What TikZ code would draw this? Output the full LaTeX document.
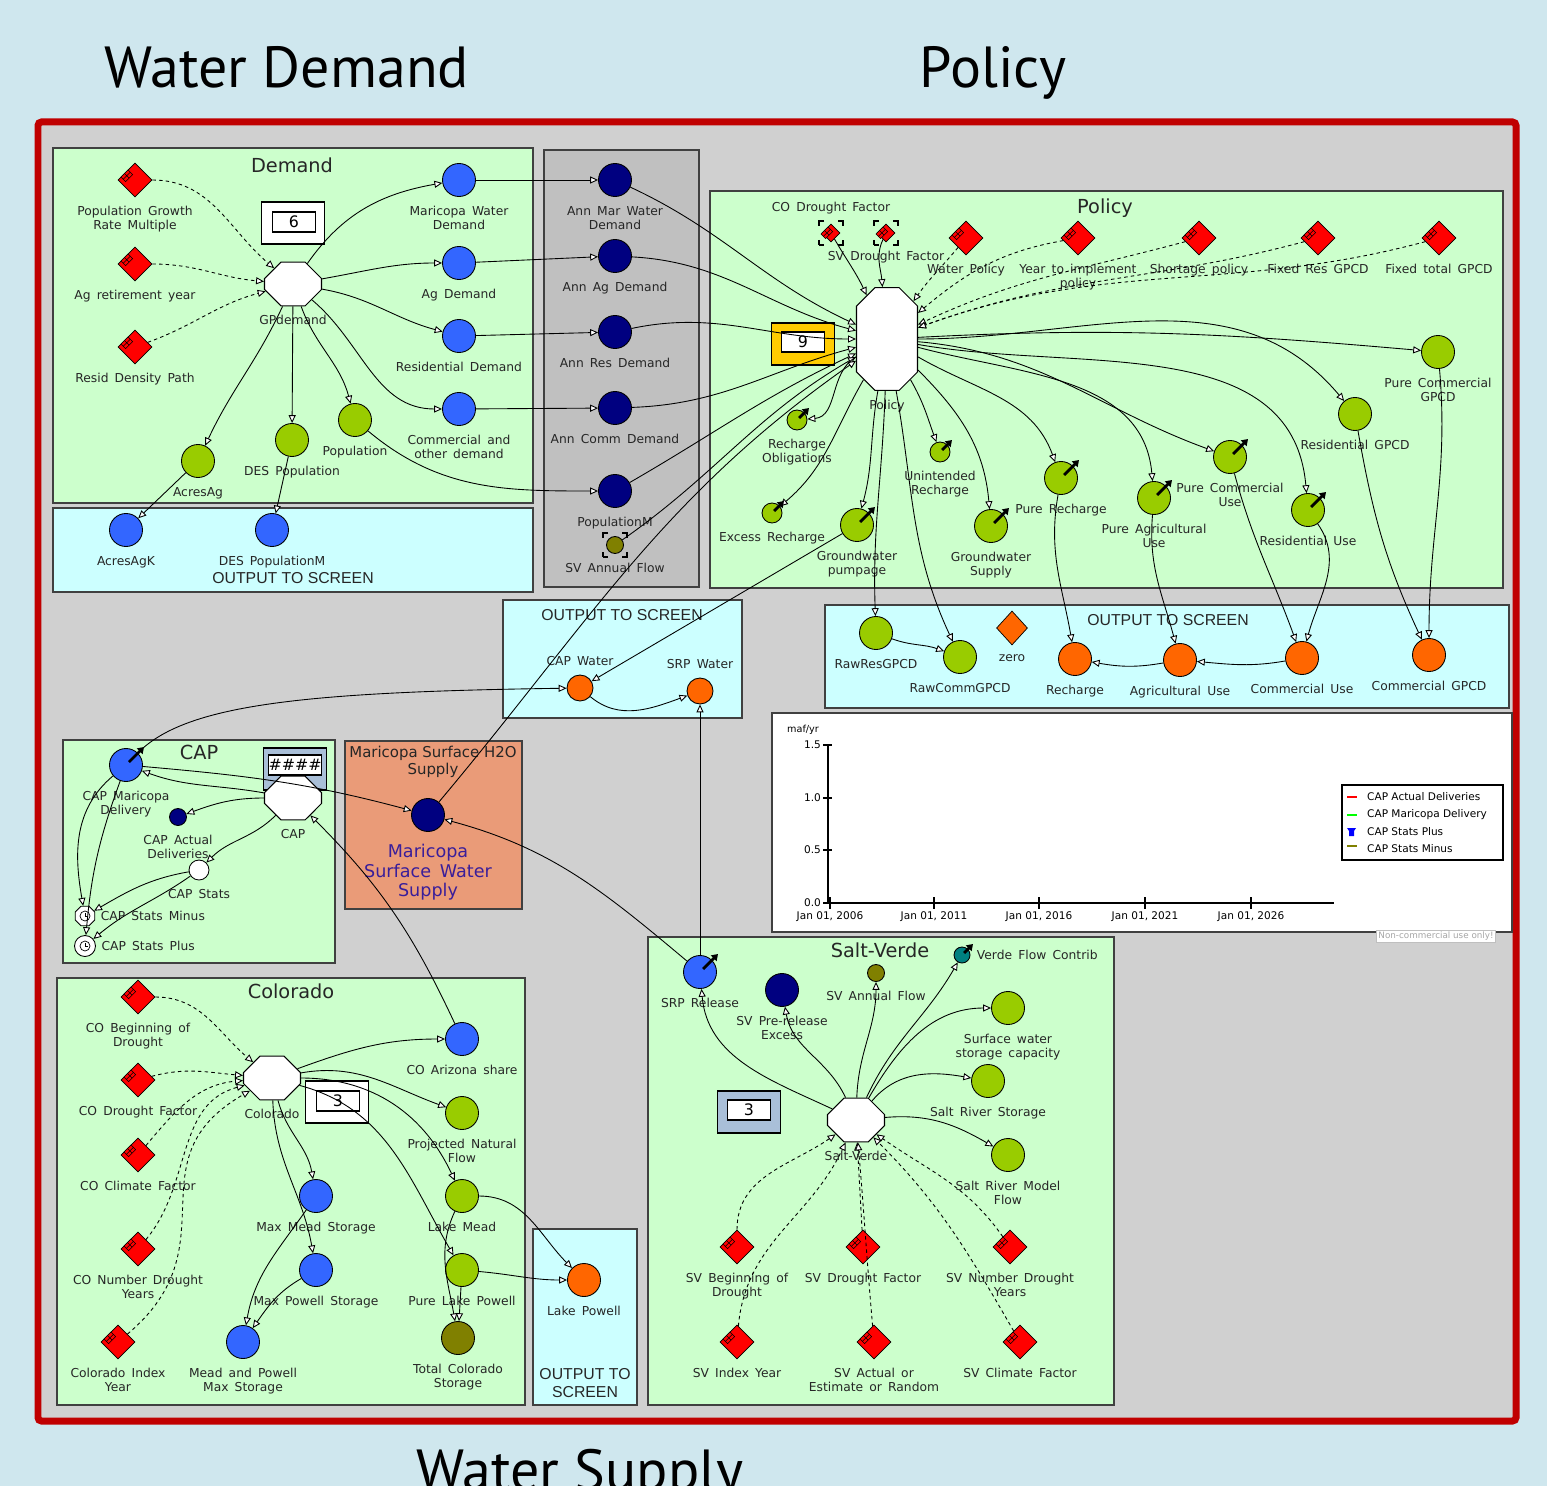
\documentclass[tikz,border=0pt]{standalone}
\usepackage{fontspec}
\setmainfont{DejaVu Sans}
\newfontfamily\headfont{PT Sans}
\newfontfamily\screenfont{Liberation Sans}
\usetikzlibrary{arrows.meta, positioning, shapes.geometric, shapes.misc}

\definecolor{bgblue}{HTML}{CFE7EE}
\definecolor{framered}{HTML}{C00000}
\definecolor{innergray}{HTML}{D0D0D0}
\definecolor{panelgreen}{HTML}{CCFFCC}
\definecolor{outcyan}{HTML}{CCFFFF}
\definecolor{annualgray}{HTML}{C0C0C0}
\definecolor{varblue}{HTML}{3366FF}
\definecolor{varnavy}{HTML}{000080}
\definecolor{vargreen}{HTML}{99CC00}
\definecolor{varorange}{HTML}{FF6600}
\definecolor{varolive}{HTML}{808000}
\definecolor{varteal}{HTML}{008080}
\definecolor{dispyellow}{HTML}{FFCC00}
\definecolor{dispsteel}{HTML}{A9BFD8}
\definecolor{salmon}{HTML}{EA9B78}
\definecolor{surftext}{HTML}{3A1E9A}

\begin{document}
\begin{tikzpicture}[x=0.02cm, y=0.02cm,
		every node/.style={font=\fontsize{7}{8}\selectfont},
		every label/.style={align=center, text=black!85, inner sep=1pt, execute at begin node={\spaceskip=0.5em\relax}},
		label distance=4pt,
		headtitle/.style={font=\headfont\fontsize{33}{36}\selectfont},
		paneltitle/.style={font=\fontsize{11}{12}\selectfont, text=black!85},
		screentitle/.style={font=\screenfont\fontsize{9}{10}\selectfont, text=black!85, align=center},
		gfont/.style={font=\fontsize{6}{7}\selectfont},
		panel/.style={draw=black!75, line width=0.9pt},
		flow/.style={line width=0.5pt, -{Triangle[fill=white, length=4.5pt, width=4pt]}},
		infl/.style={flow, dash pattern=on 2pt off 1.8pt},
		outarrow/.style={line width=1.6pt, -{Triangle[length=3.5pt, width=4.5pt]}},
		var/.style={circle, draw, line width=0.5pt, minimum size=0.66cm, inner sep=0pt},
		smallvar/.style={var, minimum size=0.4cm},
		tinyvar/.style={var, minimum size=0.34cm},
		bluevar/.style={var, fill=varblue},
		navyvar/.style={var, fill=varnavy},
		greenvar/.style={var, fill=vargreen},
		orangevar/.style={var, fill=varorange},
		paramtag/.style={draw, fill=red, line width=0.3pt, minimum width=0.2cm, minimum height=0.13cm, inner sep=0pt,
			anchor=center, xshift=0.15cm, yshift=-0.09cm, rotate=45,
			path picture={\draw[line width=0.3pt] (path picture bounding box.south west) -- (path picture bounding box.north east)
				(path picture bounding box.north west) -- (path picture bounding box.south east);}},
		param/.style={diamond, draw, fill=red, line width=0.4pt, minimum width=0.68cm, minimum height=0.68cm, inner sep=0pt, label={[paramtag]135:}},
		smallparam/.style={param, minimum width=0.36cm, minimum height=0.36cm},
		ghost/.style={draw, dash pattern=on 0.1cm off 0.28cm on 0.1cm off 0cm, line width=0.6pt, minimum size=0.48cm, inner sep=0pt},
		submodel/.style={chamfered rectangle, chamfered rectangle xsep=0.2cm, draw, fill=white, line width=0.6pt, inner xsep=0.37cm, inner ysep=0.31cm},
		dispouter/.style={draw, line width=0.6pt, minimum width=1.26cm, minimum height=0.84cm, inner sep=0pt},
		dispinner/.style={draw, fill=white, line width=0.9pt, minimum width=0.86cm, minimum height=0.4cm, inner sep=0pt, font=\fontsize{9}{9}\selectfont},
		statsicon/.style={draw, fill=white, line width=0.5pt, minimum size=0.42cm, inner sep=0pt,
			path picture={\draw[line width=0.4pt] (path picture bounding box.center) circle (0.1cm);
				\draw[line width=0.4pt] (path picture bounding box.center) -- ++(0,0.07cm) (path picture bounding box.center) -- ++(0.06cm,0);}},
	]
			\useasboundingbox (0,0) rectangle (1547,-1486);
			\clip (0,0) rectangle (1547,-1486);

			% Draw the backdrop and the frame
			\fill[bgblue] (0,0) rectangle (1547,-1486);
			\draw[framered, line width=0.14cm, fill=innergray, rounded corners=2pt] (38,-122) rectangle (1516,-1421);

			\node[headtitle, anchor=base] (twd) at (287,-88) {Water Demand};
			\node[headtitle, anchor=base] (tpol) at (993,-88) {Policy};
			\node[headtitle, anchor=base] (tws) at (580,-1490) {Water Supply};

			% Draw the panels
			\draw[panel, fill=panelgreen] (53,-148) rectangle (533,-503);
			\draw[panel, fill=outcyan] (53,-508) rectangle (533,-592);
			\draw[panel, fill=annualgray] (544,-150) rectangle (699,-587);
			\draw[panel, fill=panelgreen] (710,-191) rectangle (1503,-588);
			\draw[panel, fill=outcyan] (503,-600) rectangle (742,-718);
			\draw[panel, fill=outcyan] (825,-605) rectangle (1509,-708);
			\draw[panel, fill=white] (772,-713) rectangle (1512,-932);
			\draw[panel, fill=panelgreen] (63,-740) rectangle (335,-963);
			\draw[panel, fill=salmon] (345,-741) rectangle (522,-909);
			\draw[panel, fill=panelgreen] (57,-978) rectangle (525,-1405);
			\draw[panel, fill=outcyan] (533,-1229) rectangle (637,-1405);
			\draw[panel, fill=panelgreen] (648,-937) rectangle (1114,-1405);

			\node[paneltitle] (demt) at (292,-165) {Demand};
			\node[paneltitle] (polt) at (1105,-208) {Policy};
			\node[paneltitle] (capt) at (199,-752) {CAP};
			\node[paneltitle] (colt) at (291,-991) {Colorado};
			\node[paneltitle] (svt) at (880,-950) {Salt-Verde};
			\node[screentitle] (demout) at (293,-578) {OUTPUT TO SCREEN};
			\node[screentitle] (capout) at (622,-615) {OUTPUT TO SCREEN};
			\node[screentitle] (polout) at (1168,-620) {OUTPUT TO SCREEN};
			\node[screentitle] (lpout) at (585,-1383) {OUTPUT TO\\SCREEN};
			\node[font=\fontsize{8.5}{9.5}\selectfont, align=center, text=black!85] (mart) at (433,-762) {Maricopa Surface H2O\\Supply};

			% Draw the number displays
			\node[dispouter, fill=white] (d6) at (293,-223) {};
			\node[dispinner] (d6n) at (294,-222) {6};
			\node[dispouter, fill=dispyellow] (d9) at (803,-344) {};
			\node[dispinner] (d9n) at (803,-342) {9};
			\node[dispouter, fill=dispsteel] (dh) at (295,-769) {};
			\node[dispinner] (dhn) at (295,-765) {\#\#\#\#};
			\node[dispouter, fill=white] (d3c) at (337,-1102) {};
			\node[dispinner] (d3cn) at (338,-1101) {3};
			\node[dispouter, fill=dispsteel] (d3s) at (749,-1112) {};
			\node[dispinner] (d3sn) at (749,-1110) {3};

			% Demand
			\node[param, label={below:Population Growth\\Rate Multiple}] (pgr) at (135,-180) {};
			\node[param, label={below:Ag retirement year}] (agry) at (135,-264) {};
			\node[param, label={below:Resid Density Path}] (rdp) at (135,-347) {};
			\node[submodel, label={below:GPdemand}] (gpd) at (293,-284) {};
			\node[bluevar, label={below:Maricopa Water\\Demand}] (mwd) at (459,-180) {};
			\node[bluevar, label={below:Ag Demand}] (agd) at (459,-263) {};
			\node[bluevar, label={below:Residential Demand}] (rsd) at (459,-336) {};
			\node[bluevar, label={below:Commercial and\\other demand}] (cod) at (459,-409) {};
			\node[greenvar, label={below:AcresAg}] (acag) at (198,-461) {};
			\node[greenvar, label={below:DES Population}] (desp) at (292,-440) {};
			\node[greenvar, label={below:Population}] (popu) at (355,-420) {};
			\node[bluevar, label={below:AcresAgK}] (acagk) at (126,-530) {};
			\node[bluevar, label={below:DES PopulationM}] (despm) at (272,-530) {};

			% Annual values
			\node[navyvar, label={below:Ann Mar Water\\Demand}] (amwd) at (615,-180) {};
			\node[navyvar, label={below:Ann Ag Demand}] (aagd) at (615,-256) {};
			\node[navyvar, label={below:Ann Res Demand}] (ares) at (615,-332) {};
			\node[navyvar, label={below:Ann Comm Demand}] (acom) at (615,-408) {};
			\node[navyvar, label={below:PopulationM}] (popm) at (615,-491) {};
			\node[tinyvar, fill=varolive, label={below:SV Annual Flow}] (svafg) at (615,-545) {};
			\node[ghost] (svafgb) at (615,-545) {};

			% Policy
			\node[smallparam, label={above:CO Drought Factor}] (cdfg) at (831,-233) {};
			\node[ghost] (cdfgb) at (831,-233) {};
			\node[smallparam, label={below:SV Drought Factor}] (sdfg) at (886,-233) {};
			\node[ghost] (sdfgb) at (886,-233) {};
			\node[param, label={below:Water Policy}] (wpol) at (966,-238) {};
			\node[param, label={below:Year to implement\\policy}] (yimp) at (1078,-238) {};
			\node[param, label={below:Shortage policy}] (shpol) at (1199,-238) {};
			\node[param, label={below:Fixed Res GPCD}] (frg) at (1318,-238) {};
			\node[param, label={below:Fixed total GPCD}] (ftg) at (1439,-238) {};
			\node[submodel, inner xsep=0.37cm, inner ysep=0.9cm, chamfered rectangle xsep=0.24cm, label={below:Policy}] (pol) at (887,-339) {};
			\node[greenvar, smallvar, label={below:Recharge\\Obligations}] (ro) at (797,-420) {};
			\node[greenvar, smallvar, label={below:Excess Recharge}] (er) at (772,-513) {};
			\node[greenvar, label={below:Groundwater\\pumpage}] (gwp) at (857,-525) {};
			\node[greenvar, smallvar, label={below:Unintended\\Recharge}] (ur) at (940,-452) {};
			\node[greenvar, label={below:Groundwater\\Supply}] (gws) at (991,-526) {};
			\node[greenvar, label={below:Pure Recharge}] (pr) at (1061,-478) {};
			\node[greenvar, label={below:Pure Agricultural\\Use}] (pau) at (1154,-498) {};
			\node[greenvar, label={below:Pure Commercial\\Use}] (pcu) at (1230,-457) {};
			\node[greenvar, label={below:Residential Use}] (ru) at (1308,-510) {};
			\node[greenvar, label={below:Residential GPCD}] (rgpcd) at (1355,-414) {};
			\node[greenvar, label={below:Pure Commercial\\GPCD}] (pcgpcd) at (1438,-352) {};

			% Policy output to screen
			\node[greenvar, label={below:RawResGPCD}] (rrg) at (876,-633) {};
			\node[greenvar, label={below:RawCommGPCD}] (rcg) at (960,-657) {};
			\node[diamond, draw, fill=varorange, line width=0.4pt, minimum width=0.62cm, minimum height=0.68cm, inner sep=0pt, label={below:zero}] (zero) at (1012,-628) {};
			\node[orangevar, label={below:Recharge}] (rch) at (1075,-659) {};
			\node[orangevar, label={below:Agricultural Use}] (agu) at (1180,-660) {};
			\node[orangevar, label={below:Commercial Use}] (cu) at (1302,-658) {};
			\node[orangevar, label={below:Commercial GPCD}] (cgpcd) at (1429,-655) {};

			\node[orangevar, minimum size=0.52cm, label={above:CAP Water}] (capw) at (580,-688) {};
			\node[orangevar, minimum size=0.52cm, label={above:SRP Water}] (srpw) at (700,-691) {};

			% CAP
			\node[submodel, label={below:CAP}] (cap) at (293,-798) {};
			\node[bluevar, label={below:CAP Maricopa\\Delivery}] (cmd) at (126,-765) {};
			\node[navyvar, tinyvar, label={below:CAP Actual\\Deliveries}] (cad) at (178,-817) {};
			\node[var, smallvar, fill=white, label={below:CAP Stats}] (caps) at (199,-870) {};
			\node[statsicon, regular polygon, regular polygon sides=8, label={[xshift=-2pt]right:CAP Stats Minus}] (capsm) at (85,-916) {};
			\node[statsicon, circle, label={[xshift=-2pt]right:CAP Stats Plus}] (capsp) at (85,-946) {};

			\node[navyvar, label={[font=\fontsize{10}{11}\selectfont, text=surftext, label distance=6pt]below:Maricopa\\Surface Water\\Supply}] (msws) at (428,-815) {};

			% Colorado
			\node[param, label={below:CO Beginning of\\Drought}] (cbd) at (138,-997) {};
			\node[param, label={below:CO Drought Factor}] (cdf) at (138,-1080) {};
			\node[param, label={below:CO Climate Factor}] (ccf) at (138,-1155) {};
			\node[param, label={below:CO Number Drought\\Years}] (cnd) at (138,-1249) {};
			\node[param, label={below:Colorado Index\\Year}] (cix) at (118,-1342) {};
			\node[submodel, label={below:Colorado}] (colo) at (272,-1078) {};
			\node[bluevar, label={below:CO Arizona share}] (coas) at (462,-1039) {};
			\node[greenvar, label={below:Projected Natural\\Flow}] (pnf) at (462,-1113) {};
			\node[bluevar, label={below:Max Mead Storage}] (mms) at (316,-1196) {};
			\node[greenvar, label={below:Lake Mead}] (lm) at (462,-1196) {};
			\node[bluevar, label={below:Max Powell Storage}] (mps) at (316,-1270) {};
			\node[greenvar, label={below:Pure Lake Powell}] (plp) at (462,-1270) {};
			\node[bluevar, label={below:Mead and Powell\\Max Storage}] (mpms) at (243,-1342) {};
			\node[var, fill=varolive, label={below:Total Colorado\\Storage}] (tcs) at (458,-1338) {};
			\node[orangevar, label={below:Lake Powell}] (lp) at (584,-1280) {};

			% Salt-Verde
			\node[bluevar, label={below:SRP Release}] (srpr) at (700,-972) {};
			\node[navyvar, label={below:SV Pre-release\\Excess}] (svpe) at (782,-990) {};
			\node[tinyvar, fill=varolive, label={below:SV Annual Flow}] (svaf) at (876,-973) {};
			\node[var, fill=varteal, minimum size=0.32cm, label={[xshift=-1.5pt]right:Verde Flow Contrib}] (vfc) at (962,-955) {};
			\node[greenvar, label={below:Surface water\\storage capacity}] (swsc) at (1008,-1008) {};
			\node[greenvar, label={below:Salt River Storage}] (srs) at (988,-1081) {};
			\node[greenvar, label={below:Salt River Model\\Flow}] (srmf) at (1008,-1155) {};
			\node[submodel, label={below:Salt-Verde}] (sv) at (856,-1120) {};
			\node[param, label={below:SV Beginning of\\Drought}] (svbd) at (737,-1247) {};
			\node[param, label={below:SV Drought Factor}] (svdf) at (863,-1247) {};
			\node[param, label={below:SV Number Drought\\Years}] (svnd) at (1010,-1247) {};
			\node[param, label={below:SV Index Year}] (svix) at (737,-1342) {};
			\node[param, label={below:SV Actual or\\Estimate or Random}] (svae) at (874,-1342) {};
			\node[param, label={below:SV Climate Factor}] (svcf) at (1020,-1342) {};

			% Draw the links of GPdemand
			\draw[infl] (pgr) to[out=0, in=140] (gpd);
			\draw[infl] (agry) to[out=0, in=175] (gpd);
			\draw[infl] (rdp) to[out=20, in=195] (gpd);
			\draw[flow] (gpd) to[out=55, in=190] (mwd);
			\draw[flow] (gpd) to[out=10, in=180] (agd);
			\draw[flow] (gpd) to[out=-10, in=165] (rsd);
			\draw[flow] (gpd) to[out=-40, in=180] (cod);
			\draw[flow] (gpd) to[out=-115, in=65] (acag);
			\draw[flow] (gpd) -- (desp);
			\draw[flow] (gpd) to[out=-70, in=105] (popu);
			\draw[flow] (acag) -- (acagk);
			\draw[flow] (desp) -- (despm);
			\draw[flow] (popu) to[out=-40, in=180] (popm);

			% Draw the wires into the annual values
			\draw[flow] (mwd) -- (amwd);
			\draw[flow] (agd) -- (aagd);
			\draw[flow] (rsd) -- (ares);
			\draw[flow] (cod) -- (acom);

			% Draw the wires entering Policy
			\draw[flow] (amwd) to[out=-25, in=155] (pol);
			\draw[flow] (aagd) to[out=-3, in=165] (pol);
			\draw[flow] (ares) to[out=12, in=180] (pol);
			\draw[flow] (acom) to[out=2, in=195] (pol);
			\draw[flow] (popm) to[out=30, in=205] (pol);
			\draw[flow] (svafg) to[out=35, in=210] (pol);
			\draw[flow] (msws) to[out=50, in=215] (pol);
			\draw[flow] (cdfg) to[out=-60, in=115] (pol);
			\draw[flow] (sdfg) to[out=-115, in=95] (pol);
			\draw[infl] (wpol) to[out=-130, in=55] (pol);
			\draw[infl] (yimp) to[out=190, in=40] (pol);
			\draw[infl] (shpol) to[out=195, in=25] (pol);
			\draw[infl] (frg) to[out=195, in=20] (pol);
			\draw[infl] (ftg) to[out=195, in=20] (pol);

			% Draw the wires leaving Policy
			\draw[flow] (pol) to[out=3, in=175] (pcgpcd);
			\draw[flow] (pol) to[out=0, in=130] (rgpcd);
			\draw[flow] (pol) to[out=-5, in=160] (pcu);
			\draw[flow] (pol) to[out=-10, in=95] (ru);
			\draw[flow] (pol) to[out=-15, in=95] (pau);
			\draw[flow] (pol) to[out=-30, in=110] (pr);
			\draw[flow] (pol) to[out=-45, in=95] (gws);
			\draw[flow] (pol) to[out=-60, in=110] (ur);
			\draw[flow] (pol) to[out=-100, in=75] (gwp);
			\draw[flow] (pol) to[out=-120, in=40] (er);
			\draw[flow] (pol) to[out=-150, in=5] (ro);
			\draw[flow] (pol) to[out=-92, in=92] (rrg);
			\draw[flow] (pol) to[out=-80, in=115] (rcg);
			\draw[flow] (gwp) -- (capw);

			\draw[flow] (rrg) to[out=-20, in=160] (rcg);
			\draw[flow] (agu) to[out=190, in=-10] (rch);
			\draw[flow] (cu) to[out=190, in=-5] (agu);
			\draw[flow] (pr) to[out=-100, in=100] (rch);
			\draw[flow] (pau) to[out=-95, in=105] (agu);
			\draw[flow] (pcu) to[out=-75, in=110] (cu);
			\draw[flow] (ru) to[out=-55, in=75] (cu);
			\draw[flow] (rgpcd) to[out=-80, in=115] (cgpcd);
			\draw[flow] (pcgpcd) to[out=-85, in=90] (cgpcd);

			% Draw the CAP wires
			\draw[flow] (capw) to[out=-40, in=200] (srpw);
			\draw[flow] (cmd) .. controls (185,-705) and (300,-692) .. (capw);
			\draw[flow] (srpr) -- (srpw);
			\draw[flow] (cap) to[out=170, in=-20] (cmd);
			\draw[flow] (cmd) to[out=-5, in=165] (msws);
			\draw[flow] (cap) to[out=180, in=20] (cad);
			\draw[flow] (cap) to[out=-135, in=45] (caps);
			\draw[flow] (caps) to[out=190, in=30] (capsm);
			\draw[flow] (caps) to[out=215, in=40] (capsp);
			\draw[flow] (cmd) to[out=-140, in=100] (capsm);
			\draw[flow] (cmd) to[out=-110, in=85] (capsp);
			\draw[flow] (coas) to[out=115, in=-45] (cap);
			\draw[flow] (srpr) to[out=140, in=-15] (msws);

			% Draw the Colorado wires
			\draw[infl] (cbd) to[out=0, in=140] (colo);
			\draw[infl] (cdf) to[out=15, in=175] (colo);
			\draw[infl] (ccf) to[out=50, in=185] (colo);
			\draw[infl] (cnd) to[out=50, in=195] (colo);
			\draw[infl, looseness=1.3] (cix) to[out=40, in=210] (colo);
			\draw[flow] (colo) to[out=20, in=180] (coas);
			\draw[flow] (colo) to[out=10, in=160] (pnf);
			\draw[flow] (colo) to[out=0, in=115] (lm);
			\draw[flow] (colo) to[out=-15, in=120] (plp);
			\draw[flow] (colo) to[out=-75, in=100] (mms);
			\draw[flow] (colo) to[out=-88, in=100] (mps);
			\draw[flow] (mms) to[out=-125, in=80] (mpms);
			\draw[flow] (mps) to[out=-150, in=55] (mpms);
			\draw[flow] (lm) to[out=-115, in=100] (tcs);
			\draw[flow] (plp) -- (tcs);
			\draw[flow] (lm) to[out=0, in=135] (lp);
			\draw[flow] (plp) to[out=-5, in=180] (lp);

			% Draw the Salt-Verde wires
			\draw[flow] (sv) to[out=155, in=-85] (srpr);
			\draw[flow] (sv) to[out=115, in=-80] (svpe);
			\draw[flow] (sv) to[out=88, in=-90] (svaf);
			\draw[flow] (sv) to[out=65, in=-120] (vfc);
			\draw[flow] (sv) to[out=60, in=180] (swsc);
			\draw[flow] (sv) to[out=50, in=170] (srs);
			\draw[flow] (sv) to[out=5, in=150] (srmf);
			\draw[infl] (svbd) to[out=90, in=215] (sv);
			\draw[infl] (svix) to[out=85, in=245] (sv);
			\draw[infl] (svdf) -- (sv);
			\draw[infl] (svae) to[out=95, in=-85] (sv);
			\draw[infl] (svnd) to[out=125, in=-35] (sv);
			\draw[infl] (svcf) to[out=120, in=-45] (sv);

			% Draw the output marks
			\draw[outarrow] ([shift={(3,3)}]gwp.center) -- ([shift={(18,18)}]gwp.center);
			\draw[outarrow] ([shift={(3,3)}]gws.center) -- ([shift={(18,18)}]gws.center);
			\draw[outarrow] ([shift={(3,3)}]pr.center) -- ([shift={(18,18)}]pr.center);
			\draw[outarrow] ([shift={(3,3)}]pau.center) -- ([shift={(18,18)}]pau.center);
			\draw[outarrow] ([shift={(3,3)}]pcu.center) -- ([shift={(18,18)}]pcu.center);
			\draw[outarrow] ([shift={(3,3)}]ru.center) -- ([shift={(18,18)}]ru.center);
			\draw[outarrow] ([shift={(3,3)}]cmd.center) -- ([shift={(18,18)}]cmd.center);
			\draw[outarrow] ([shift={(3,3)}]srpr.center) -- ([shift={(18,18)}]srpr.center);
			\draw[outarrow] ([shift={(2,2)}]ro.center) -- ([shift={(12,12)}]ro.center);
			\draw[outarrow] ([shift={(2,2)}]er.center) -- ([shift={(12,12)}]er.center);
			\draw[outarrow] ([shift={(2,2)}]ur.center) -- ([shift={(12,12)}]ur.center);
			\draw[outarrow] ([shift={(2,2)}]vfc.center) -- ([shift={(11,11)}]vfc.center);

			% Draw the graph
			\node[gfont, font=\fontsize{5.5}{6}\selectfont] (gunit) at (803,-730) {maf/yr};
			\draw[line width=0.6pt] (828,-745) -- (828,-903) -- (1334,-903);
			\foreach \v/\y in {1.5/745, 1.0/798, 0.5/850, 0.0/903} {
				\draw[line width=0.6pt] (823,-\y) -- (832,-\y);
				\node[gfont, anchor=east, inner sep=1pt] (yt\y) at (823,-\y) {\v};
			}
			\foreach \yr/\x in {2006/830, 2011/934, 2016/1039, 2021/1145, 2026/1251} {
				\draw[line width=0.6pt] (\x,-897) -- (\x,-909);
				\node[gfont] (xt\yr) at (\x,-917) {Jan 01, \yr};
			}
			\draw[line width=0.7pt] (1342,-785) rectangle (1503,-860);
			\draw[red, line width=0.6pt] (1347,-797) -- (1357,-797);
			\node[gfont, anchor=west] (leg1) at (1361,-797) {CAP Actual Deliveries};
			\draw[green, line width=0.6pt] (1347,-815) -- (1357,-815);
			\node[gfont, anchor=west] (leg2) at (1361,-815) {CAP Maricopa Delivery};
			\fill[blue] (1347,-828) -- (1356,-828) -- (1354,-831) -- (1354,-836) -- (1349,-836) -- (1349,-831) -- cycle;
			\node[gfont, anchor=west] (leg3) at (1361,-832) {CAP Stats Plus};
			\draw[varolive, line width=0.6pt] (1347,-846) -- (1357,-846);
			\node[gfont, anchor=west] (leg4) at (1361,-849) {CAP Stats Minus};
			\node[draw=black!25, fill=white, text=black!35, font=\fontsize{5}{6}\selectfont, inner sep=1pt] (ncu) at (1436,-936) {Non-commercial use only!};

\end{tikzpicture}
\end{document}
